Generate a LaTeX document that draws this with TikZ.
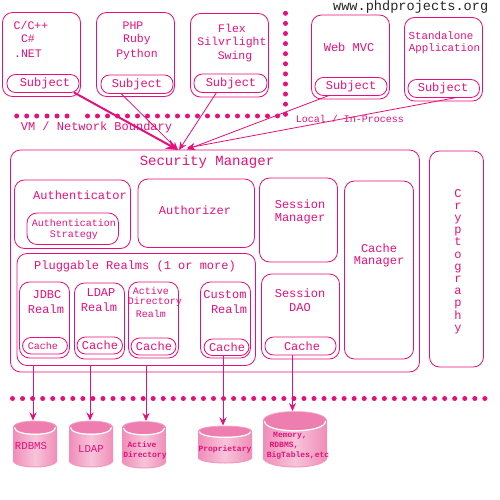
\documentclass[tikz,border=0pt]{standalone}
\usepackage{fontspec}
\setmainfont{Liberation Mono}
\usetikzlibrary{arrows.meta}
\definecolor{mag}{HTML}{E6107C}
\tikzset{
 bx/.style={draw=mag,line width=0.85pt,rounded corners=#1,inner sep=0pt,outer sep=0pt},
 bx/.default=10pt,
 pill/.style={draw=mag,line width=0.85pt,rounded corners=8.5pt,inner sep=0pt,outer sep=0pt},
 tx/.style={text=mag,inner sep=0pt,font=\fontsize{12}{12}\selectfont},
 txs/.style={text=mag,inner sep=0pt,font=\fontsize{10}{10}\selectfont},
 txt/.style={text=mag,inner sep=0pt,font=\fontsize{8}{8}\selectfont\bfseries},
 conn/.style={draw=mag,line width=0.8pt,-{Stealth[length=8pt,width=7pt]}},
 dot/.style={fill=mag},
}
% name, x0, y0, x1, y1, style
\newcommand{\rbox}[6]{%
 \pgfmathsetmacro{\bxw}{#4-#2}\pgfmathsetmacro{\bxh}{#5-#3}%
 \pgfmathsetmacro{\bxc}{(#2+#4)/2}\pgfmathsetmacro{\bxd}{(#3+#5)/2}%
 \node[#6,minimum width=\bxw pt,minimum height=\bxh pt] (#1) at (\bxc,\bxd) {};}
% name, x0, x1, ytop, ybot, ry, arrow x
\newcommand{\cyl}[7]{%
 \pgfmathsetmacro{\cc}{(#2+#3)/2}\pgfmathsetmacro{\rx}{(#3-#2)/2}%
 \pgfmathsetmacro{\yt}{#4+#6}\pgfmathsetmacro{\yb}{#5-#6}\pgfmathsetmacro{\ybc}{#5+#6/3}%
 \path[left color=cylA,right color=cylA,middle color=cylB]
   (#2,\yt) -- (#2,\yb) .. controls (#2,\ybc) and (#3,\ybc) .. (#3,\yb) -- (#3,\yt)
   .. controls (#3,#4-#6/3) and (#2,#4-#6/3) .. (#2,\yt) -- cycle;
 \draw[draw=cylC,line width=1pt] (#2,\yb) .. controls (#2,\ybc) and (#3,\ybc) .. (#3,\yb);
 \fill[cylD] (\cc,\yt) ellipse [x radius=\rx-1.5,y radius=#6-0.8];
 \draw[white,line width=1.2pt] (#2+1.5,\yt) .. controls (#2+1.5,\yt+#6*1.3) and (#3-1.5,\yt+#6*1.3) .. (#3-1.5,\yt);
 \coordinate (#1) at (#7,#4);}
\definecolor{cylA}{HTML}{F08DB8}
\definecolor{cylB}{HTML}{F7C4DA}
\definecolor{cylC}{HTML}{EE9AC0}
\definecolor{cylD}{HTML}{EE7DB0}
\begin{document}
\begin{tikzpicture}[x=1pt,y=-1pt]
\useasboundingbox (0,0) rectangle (500,500);
\fill[white] (0,0) rectangle (500,500);
% dots
\foreach \x in {16.7,26.7,36.7,47,57,67,87.5,97.5,...,280} \fill[dot] (\x,116) circle (2.5);
\foreach \y in {13.3,23.4,...,115} \fill[dot] (285.5,\y) circle (2.5);
\foreach \x in {12.5,22.55,...,490} \fill[dot] (\x,398.5) circle (2.5);
% client boxes
\rbox{c1}{2.5}{12.5}{80.5}{96.5}{bx}
\rbox{s1}{7}{74.5}{79}{92.5}{pill}
\rbox{c2}{96.5}{12.5}{174.5}{96.5}{bx}
\rbox{s2}{101}{75}{173}{93.5}{pill}
\rbox{c3}{190.5}{13.5}{268.5}{97}{bx}
\rbox{s3}{194}{74}{267}{92.5}{pill}
\rbox{c4}{311.5}{15}{389.5}{99}{bx}
\rbox{s4}{315}{77.5}{387}{95.5}{pill}
\rbox{c5}{404.5}{17.5}{482.5}{101}{bx}
\rbox{s5}{408}{79.5}{479.5}{97.5}{pill}
% security manager
\rbox{sm}{10.5}{150}{419.5}{372}{bx}
\rbox{cr}{429.5}{151}{483.5}{367}{bx}
\rbox{au}{14.5}{180}{130.5}{248.5}{bx}
\rbox{as}{27}{213}{118.5}{244.5}{bx}
\rbox{az}{138}{179}{254.5}{247.5}{bx}
\rbox{pr}{17}{253.5}{255.5}{365.5}{bx}
\rbox{r1}{19.5}{282}{69.5}{358}{bx}
\rbox{k1}{22.5}{337.5}{67.5}{354}{pill}
\rbox{r2}{74.5}{283}{124.5}{359}{bx}
\rbox{k2}{77}{337}{122.5}{354}{pill}
\rbox{r3}{128.5}{282}{178.5}{358}{bx}
\rbox{k3}{131}{338}{176}{355}{pill}
\rbox{r4}{200.5}{282}{250.5}{358}{bx}
\rbox{k4}{204}{339}{249}{355.5}{pill}
\rbox{sn}{259.5}{178}{337.5}{262}{bx}
\rbox{sd}{261.5}{274}{339.5}{359}{bx}
\rbox{k5}{265}{337}{336}{355}{pill}
\rbox{cm}{344.5}{181}{413.5}{359}{bx}
% labels
\node[tx,text=black!85,font=\fontsize{13.6}{14}\selectfont] (w) at (410.7,7) {www.phdprojects.org};
\node[tx,font=\fontsize{11.5}{12}\selectfont] (t1) at (31,25) {C/C++};
\node[tx,font=\fontsize{11.5}{12}\selectfont] (t2) at (28,39) {C\#};
\node[tx,font=\fontsize{11.5}{12}\selectfont] (t3) at (28,54) {.NET};
\node[tx,font=\fontsize{11.5}{12}\selectfont] (t4) at (133,25.5) {PHP};
\node[tx,font=\fontsize{11.5}{12}\selectfont] (t5) at (137,39.5) {Ruby};
\node[tx,font=\fontsize{11.5}{12}\selectfont] (t6) at (137,54.5) {Python};
\node[tx,font=\fontsize{11.5}{12}\selectfont] (t7) at (232,28.5) {Flex};
\node[tx,font=\fontsize{11.5}{12}\selectfont] (t8) at (232,42.5) {Silvrlight};
\node[tx,font=\fontsize{11.5}{12}\selectfont] (t9) at (235,57) {Swing};
\node[tx] (l1) at (45,83) {Subject};
\node[tx] (l2) at (137,84.5) {Subject};
\node[tx] (l3) at (231,83.5) {Subject};
\node[tx] (l4) at (351,86) {Subject};
\node[tx] (l5) at (443,88) {Subject};
\node[tx] (t10) at (349,47.5) {Web MVC};
\node[txs,font=\fontsize{10.8}{11}\selectfont] (t11) at (441,36) {Standalone};
\node[txs,font=\fontsize{10.8}{11}\selectfont] (t12) at (444.5,48.5) {Application};
\node[tx] (vm) at (96.5,127.5) {VM / Network Boundary};
\node[txs] (lip) at (350,118.5) {Local / In-Process};
\node[tx,font=\fontsize{14}{14}\selectfont] (smt) at (207,162) {Security Manager};
\node[tx] (aut) at (80,195.5) {Authenticator};
\node[txs] (ast1) at (74,223) {Authentication};
\node[txs] (ast2) at (74,235) {Strategy};
\node[tx] (azt) at (195,210.5) {Authorizer};
\node[tx] (prt) at (135,266.5) {Pluggable Realms (1 or more)};
\node[tx] (j1) at (47,295) {JDBC};
\node[tx] (j2) at (46,309) {Realm};
\node[tx] (d1) at (101,292.5) {LDAP};
\node[tx] (d2) at (99,307.5) {Realm};
\node[txs] (a1) at (151,291) {Active};
\node[txs] (a2) at (155,302) {Directory};
\node[txs] (a3) at (151,314) {Realm};
\node[tx] (u1) at (225,295) {Custom};
\node[tx] (u2) at (229,309) {Realm};
\node[txs] (c1t) at (43,346) {Cache};
\node[tx] (c2t) at (100,345) {Cache};
\node[tx] (c3t) at (154,346) {Cache};
\node[tx] (c4t) at (227,347.5) {Cache};
\node[tx] (c5t) at (302,346.5) {Cache};
\node[tx] (sn1) at (300,204) {Session};
\node[tx] (sn2) at (300,219) {Manager};
\node[tx] (sd1) at (300,293) {Session};
\node[tx] (sd2) at (300,308) {DAO};
\node[tx] (cm1) at (379,248) {Cache};
\node[tx] (cm2) at (379,262) {Manager};
\node[tx,align=center,font=\fontsize{12}{12.2}\selectfont] (crt) at (458,261.5)
 {C\\r\\y\\p\\t\\o\\g\\r\\a\\p\\h\\y};
% cylinders
\cyl{db1}{13}{57}{420.5}{467}{7}{33}
\cyl{db2}{69}{113}{420.5}{467}{7}{90}
\cyl{db3}{122}{166}{421}{468}{7}{146}
\cyl{db4}{198}{252}{425.5}{463}{6}{223}
\cyl{db5}{263}{327}{411}{467}{10}{292.5}
\node[tx,font=\fontsize{10.7}{11}\selectfont] (b1) at (31,446) {RDBMS};
\node[tx,font=\fontsize{10.7}{11}\selectfont] (b2) at (91,449) {LDAP};
\node[txt] (b3) at (142,444.5) {Active};
\node[txt] (b4) at (145,455) {Directory};
\node[txt] (b5) at (225,449) {Proprietary};
\node[txt] (b6) at (290,436) {Memory,};
\node[txt] (b7) at (284,446) {RDBMS,};
\node[txt] (b8) at (298,455) {BigTables,etc};
% connectors into security manager
\draw[conn,line width=2pt,-{Stealth[length=12pt,width=10pt]}] ([xshift=-5pt]s1.south east) -- ([xshift=-37pt]sm.north);
\draw[conn] ([xshift=-16pt]s2.south) -- ([xshift=-37pt]sm.north);
\draw[conn] ([xshift=-14pt]s3.south) -- ([xshift=-36pt]sm.north);
\draw[conn] ([xshift=-22pt]s4.south) -- ([xshift=-28pt,yshift=0.5pt]sm.north);
\draw[conn] ([xshift=13pt]s5.south) -- ([xshift=-28pt,yshift=2pt]sm.north);
% connectors to stores
\draw[conn] (pr.south -| db1) -- (db1);
\draw[conn] (pr.south -| db2) -- (db2);
\draw[conn] (pr.south -| db3) -- (db3);
\draw[conn] (k4.south -| db4) -- (db4);
\draw[conn] (k5.south -| db5) -- (db5);
\end{tikzpicture}
\end{document}
